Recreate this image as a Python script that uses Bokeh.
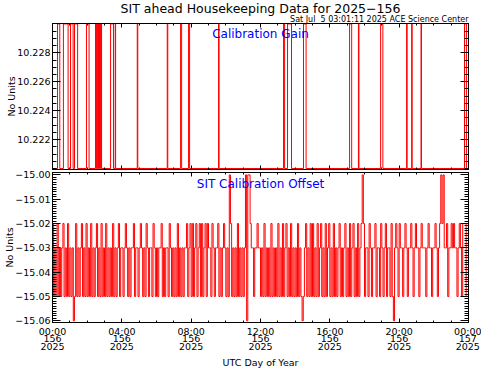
from bokeh.plotting import figure
from bokeh.models import (Range1d, LinearAxis, SingleIntervalTicker, FixedTicker,
                          Title, CustomJSTickFormatter)
from bokeh.core.properties import value
from bokeh.layouts import column
from bokeh.embed import file_html
from bokeh.resources import INLINE

# ---------------- data ----------------
title_text = "SIT ahead Housekeeping Data for 2025\u2212156"
stamp_text = "Sat Jul \u00a05 03:01:11 2025 ACE Science Center"
gain_title = "Calibration Gain"
offset_title = "SIT Calibration Offset"
y_label = "No Units"
x_label = "UTC Day of Year"

x_tick_hours = [0, 4, 8, 12, 16, 20, 24]
x_minor_hours = list(range(0, 25))
x_tick_labels = ["00:00\n156\n2025", "04:00\n156\n2025", "08:00\n156\n2025",
                 "12:00\n156\n2025", "16:00\n156\n2025", "20:00\n156\n2025",
                 "00:00\n157\n2025"]
gain_ticks = [10.222, 10.224, 10.226, 10.228]
gain_minor_ticks = [round(10.2200 + 0.0005 * k, 4) for k in range(21)]

# Calibration gain: step transitions (hours of day, value)
gain_times = [0.00, 0.29, 0.42, 0.63, 0.90, 1.04, 1.19, 1.27, 1.45, 1.96, 2.11,
              2.48, 2.52, 2.55, 2.58, 2.61, 2.65, 2.68, 2.71, 2.74, 2.78, 2.80, 2.83,
              3.35, 3.52, 3.62, 3.64, 4.89, 4.92, 6.62, 6.65, 7.39, 7.45, 7.85, 7.91,
              9.58, 9.61, 13.33, 13.39, 13.56, 13.79, 14.48, 14.63, 17.14, 17.26,
              17.65, 17.68, 18.93, 19.06, 20.43, 20.46, 20.72, 20.75, 21.26, 21.29,
              23.77, 23.88]
gain_values = [10.220, 10.230, 10.220, 10.230, 10.220, 10.230, 10.220, 10.230, 10.220, 10.230, 10.220,
               10.230, 10.220, 10.230, 10.220, 10.230, 10.220, 10.230, 10.220, 10.230, 10.220, 10.230, 10.220,
               10.230, 10.220, 10.230, 10.220, 10.230, 10.220, 10.230, 10.220, 10.230, 10.220, 10.230, 10.220,
               10.230, 10.220, 10.230, 10.220, 10.230, 10.220, 10.230, 10.220, 10.230, 10.220,
               10.230, 10.220, 10.230, 10.220, 10.230, 10.220, 10.230, 10.220, 10.230, 10.220,
               10.230, 10.220]

# SIT calibration offset, 4-minute samples from 00:00 (one row per hour)
offset_step_min = 4
offset_values = [
    -15.02, -15.05, -15.03, -15.05, -15.02, -15.05, -15.03, -15.05, -15.03, -15.02, -15.05, -15.03, -15.05, -15.02, -15.05,
    -15.03, -15.05, -15.03, -15.06, -15.05, -15.02, -15.05, -15.03, -15.05, -15.03, -15.02, -15.05, -15.03, -15.05, -15.02,
    -15.05, -15.03, -15.05, -15.02, -15.05, -15.03, -15.05, -15.03, -15.02, -15.05, -15.03, -15.05, -15.02, -15.05, -15.03,
    -15.05, -15.02, -15.05, -15.03, -15.05, -15.03, -15.05, -15.02, -15.05, -15.03, -15.05, -15.03, -15.02, -15.05, -15.03,
    -15.03, -15.05, -15.03, -15.02, -15.03, -15.05, -15.03, -15.05, -15.03, -15.03, -15.02, -15.05, -15.03, -15.03, -15.05,
    -15.03, -15.02, -15.03, -15.05, -15.03, -15.05, -15.02, -15.03, -15.05, -15.03, -15.03, -15.05, -15.02, -15.03, -15.05,
    -15.03, -15.05, -15.03, -15.03, -15.02, -15.05, -15.03, -15.05, -15.03, -15.03, -15.05, -15.02, -15.03, -15.05, -15.03,
    -15.05, -15.03, -15.05, -15.02, -15.05, -15.03, -15.05, -15.03, -15.05, -15.03, -15.03, -15.02, -15.05, -15.03, -15.02,
    -15.05, -15.02, -15.05, -15.03, -15.02, -15.05, -15.03, -15.02, -15.05, -15.02, -15.05, -15.03, -15.02, -15.05, -15.02,
    -15.03, -15.03, -15.05, -15.02, -15.03, -15.05, -15.03, -15.03, -15.02, -15.05, -15.03, -15.05, -15.03, -15.02, -15.03,
    -15.05, -15.03, -15.05, -15.00, -15.02, -15.05, -15.03, -15.05, -15.03, -15.05, -15.02, -15.05, -15.03, -15.05, -15.03,
    -15.05, -15.03, -15.00, -15.06, -15.00, -15.00, -15.02, -15.03, -15.03, -15.05, -15.03, -15.03, -15.02, -15.03, -15.03,
    -15.05, -15.03, -15.05, -15.02, -15.05, -15.03, -15.05, -15.03, -15.05, -15.02, -15.05, -15.03, -15.05, -15.03, -15.05,
    -15.02, -15.05, -15.03, -15.05, -15.02, -15.05, -15.03, -15.02, -15.05, -15.03, -15.05, -15.02, -15.05, -15.03, -15.05,
    -15.03, -15.05, -15.02, -15.05, -15.03, -15.05, -15.06, -15.05, -15.03, -15.02, -15.05, -15.03, -15.05, -15.02, -15.05,
    -15.02, -15.05, -15.03, -15.05, -15.02, -15.05, -15.03, -15.02, -15.05, -15.03, -15.05, -15.02, -15.05, -15.03, -15.02,
    -15.05, -15.03, -15.05, -15.02, -15.05, -15.03, -15.05, -15.03, -15.02, -15.05, -15.03, -15.05, -15.03, -15.02, -15.05,
    -15.03, -15.05, -15.02, -15.05, -15.03, -15.02, -15.05, -15.03, -15.05, -15.02, -15.05, -15.03, -15.02, -15.00, -15.02,
    -15.05, -15.03, -15.03, -15.05, -15.02, -15.03, -15.05, -15.03, -15.03, -15.02, -15.05, -15.03, -15.03, -15.05, -15.02,
    -15.03, -15.05, -15.03, -15.02, -15.05, -15.03, -15.03, -15.05, -15.02, -15.05, -15.06, -15.03, -15.02, -15.03, -15.05,
    -15.02, -15.03, -15.03, -15.05, -15.03, -15.02, -15.03, -15.05, -15.03, -15.03, -15.02, -15.03, -15.05, -15.03, -15.02,
    -15.03, -15.03, -15.05, -15.03, -15.02, -15.03, -15.03, -15.03, -15.05, -15.03, -15.02, -15.03, -15.03, -15.05, -15.03,
    -15.03, -15.02, -15.03, -15.05, -15.03, -15.02, -15.00, -15.02, -15.00, -15.03, -15.03, -15.02, -15.05, -15.03, -15.03,
    -15.02, -15.03, -15.02, -15.03, -15.03, -15.05, -15.03, -15.02, -15.03, -15.05, -15.02, -15.02, -15.02, -15.05,
]
offset_times = [i * offset_step_min / 60.0 for i in range(len(offset_values))]

# ---------------- styling ----------------
RED = "#ff0000"
BLUE = "#0000ff"
FONT = "DejaVu Sans"
TICK_FS = "9.5px"

x_fmt = CustomJSTickFormatter(args=dict(tick_pos=x_tick_hours, tick_txt=x_tick_labels), code="""
    const i = tick_pos.indexOf(Math.round(tick));
    return i >= 0 ? tick_txt[i] : "";
""")
gain_fmt = CustomJSTickFormatter(code="return tick.toFixed(3).replace('-', '\\u2212');")
off_fmt = CustomJSTickFormatter(code="return tick.toFixed(2).replace('-', '\\u2212');")
blank_fmt = CustomJSTickFormatter(code="return '';")


def make_fig(height, yr, top, bottom):
    p = figure(width=481, height=height, x_range=Range1d(0, 24), y_range=yr,
               output_backend="svg", toolbar_location=None,
               x_axis_location=None, y_axis_location=None,
               min_border_left=52, min_border_right=13,
               min_border_top=top, min_border_bottom=bottom)
    p.xgrid.visible = False
    p.ygrid.visible = False
    p.outline_line_color = "black"
    p.background_fill_color = "white"
    p.border_fill_color = "white"
    return p


def style_axis(ax, tin, mtin, show):
    ax.axis_line_color = "black"
    ax.axis_line_width = 1
    ax.major_tick_in = tin
    ax.major_tick_out = 0
    ax.minor_tick_in = mtin
    ax.minor_tick_out = 0
    ax.major_tick_line_color = "black"
    ax.minor_tick_line_color = "black"
    ax.axis_label_text_font = FONT
    ax.axis_label_text_font_size = TICK_FS
    ax.axis_label_text_font_style = "normal"
    ax.axis_label_text_color = "black"
    if show:
        ax.major_label_text_font = FONT
        ax.major_label_text_font_size = TICK_FS
        ax.major_label_text_color = "black"
    else:
        ax.formatter = blank_fmt
        ax.major_label_text_font_size = "0px"
        ax.major_label_standoff = 0


def add_axes(p, yticker, yfmt, x_labels):
    for side in ("below", "above"):
        show = x_labels and side == "below"
        ax = LinearAxis(ticker=FixedTicker(ticks=x_tick_hours, minor_ticks=x_minor_hours))
        style_axis(ax, 4, 2, show)
        if show:
            ax.formatter = x_fmt
            ax.major_label_standoff = 3
            ax.major_label_text_line_height = 0.69
            ax.major_label_text_align = "center"
            ax.axis_label = x_label
            ax.axis_label_standoff = 2
        p.add_layout(ax, side)
    for side in ("left", "right"):
        show = side == "left"
        ax = LinearAxis(ticker=yticker)
        style_axis(ax, 8, 4, show)
        if show:
            ax.formatter = yfmt
            ax.major_label_standoff = 2
            ax.axis_label = y_label
            ax.axis_label_standoff = -3
        p.add_layout(ax, side)


# ---------------- top panel: calibration gain ----------------
p1 = make_fig(170, Range1d(10.21993, 10.23003), 23, 1)
p1.step(gain_times, gain_values, mode="after", line_color=RED, line_width=1)
add_axes(p1, FixedTicker(ticks=gain_ticks, minor_ticks=gain_minor_ticks), gain_fmt, False)
p1.add_layout(Title(text=stamp_text, align="right", text_font=FONT, text_font_size="8px",
                    text_font_style="normal", text_color="black", standoff=-1), "above")
p1.add_layout(Title(text=title_text, align="center", text_font=FONT, text_font_size="12.5px",
                    text_font_style="normal", text_color="black", standoff=-4), "above")
p1.text(x=[12], y=[10.2293], text=[gain_title], text_font=value(FONT), text_font_size="12px",
        text_align="center", text_baseline="middle", text_color=BLUE)

# ---------------- bottom panel: calibration offset ----------------
p2 = make_fig(200, Range1d(-15.0607, -14.999), 2, 47)
p2.step(offset_times, offset_values, mode="after", line_color=RED, line_width=1)
add_axes(p2, SingleIntervalTicker(interval=0.01, num_minor_ticks=10), off_fmt, True)
p2.text(x=[12], y=[-15.0036], text=[offset_title], text_font=value(FONT), text_font_size="12px",
        text_align="center", text_baseline="middle", text_color=BLUE)

layout = column(p1, p2, spacing=0)
open("out.html", "w").write(file_html(layout, INLINE))
